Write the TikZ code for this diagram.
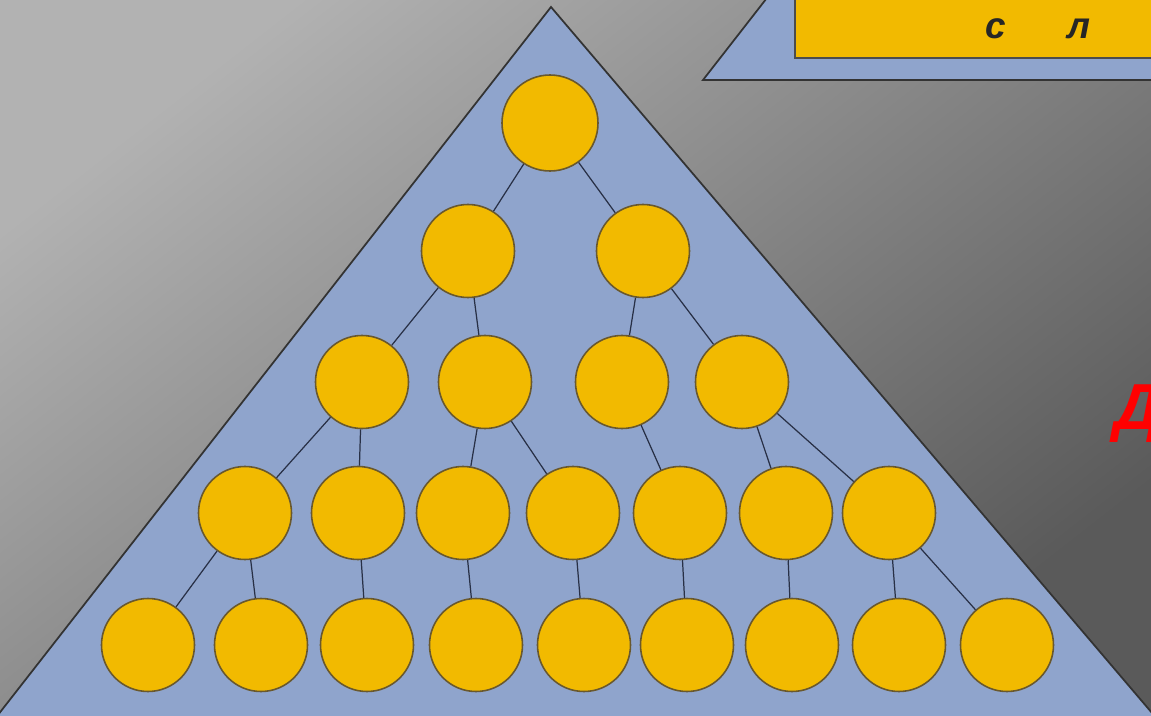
\documentclass[tikz,border=0pt]{standalone}
\usepackage{fontspec}
\setmainfont{Liberation Sans}
\definecolor{BgLight}{RGB}{178,178,178}
\definecolor{BgMid}{RGB}{128,128,128}
\definecolor{BgDark}{RGB}{90,90,90}
\definecolor{PyrBlue}{RGB}{143,164,204}
\definecolor{BallGold}{RGB}{242,186,0}
\definecolor{BallEdge}{RGB}{105,88,45}
\definecolor{LinkDark}{RGB}{40,48,70}
\usetikzlibrary{positioning, calc}

\begin{document}
\begin{tikzpicture}[
	ball/.style={circle, draw=BallEdge, line width=0.45pt, fill=BallGold, minimum size=9.3mm, inner sep=0pt},
	lnk/.style={draw=LinkDark, line width=0.35pt},
	pyr/.style={fill=PyrBlue, draw=black!80, line width=0.5pt}]

	% fondo
	\useasboundingbox (0,0) rectangle (11.51,7.15);
	\clip (0,0) rectangle (11.51,7.15);
	\shade[top color=BgLight, middle color=BgMid, bottom color=BgDark, shading angle=38] (0,0) rectangle (11.51,7.15);

	% piramide grande y la de arriba a la derecha
	\draw[pyr] (5.51,7.08) -- (-0.06,-0.05) -- (11.58,-0.05) -- cycle;
	\draw[pyr] (7.03,6.35) -- (11.7,6.35) -- (11.7,7.3) -- (7.77,7.3) -- cycle;
	\draw[fill=BallGold, draw=black!70, line width=0.5pt] (7.95,6.57) rectangle (11.7,7.3);
	\node[font=\fontsize{10.5}{12}\selectfont\bfseries\itshape, text=black!85] (ts) at (9.96,6.86) {с};
	\node[font=\fontsize{10.5}{12}\selectfont\bfseries\itshape, text=black!85] (tl) at (10.79,6.86) {л};
	\node[font=\fontsize{18.5}{22}\selectfont\bfseries\itshape, text=red, anchor=west, inner sep=0pt] (td) at (11.14,3.01) {Д};

	% fila 1
	\node[ball, minimum size=9.6mm] (n11) at (5.50,5.92) {};
	% fila 2
	\node[ball] (n21) at (4.68,4.64) {};
	\node[ball] (n22) at (6.43,4.64) {};
	% fila 3
	\node[ball] (n31) at (3.62,3.33) {};
	\node[ball] (n32) at (4.85,3.33) {};
	\node[ball] (n33) at (6.22,3.33) {};
	\node[ball] (n34) at (7.42,3.33) {};
	% fila 4
	\node[ball] (n41) at (2.45,2.02) {};
	\node[ball] (n42) at (3.58,2.02) {};
	\node[ball] (n43) at (4.63,2.02) {};
	\node[ball] (n44) at (5.73,2.02) {};
	\node[ball] (n45) at (6.80,2.02) {};
	\node[ball] (n46) at (7.86,2.02) {};
	\node[ball] (n47) at (8.89,2.02) {};
	% fila 5
	\node[ball] (n51) at (1.48,0.70) {};
	\node[ball] (n52) at (2.61,0.70) {};
	\node[ball] (n53) at (3.67,0.70) {};
	\node[ball] (n54) at (4.76,0.70) {};
	\node[ball] (n55) at (5.84,0.70) {};
	\node[ball] (n56) at (6.87,0.70) {};
	\node[ball] (n57) at (7.92,0.70) {};
	\node[ball] (n58) at (8.99,0.70) {};
	\node[ball] (n59) at (10.07,0.70) {};

	\foreach \a/\b in {n11/n21, n11/n22, n21/n31, n21/n32, n22/n33, n22/n34,
		n31/n41, n31/n42, n32/n43, n32/n44, n33/n45, n34/n46, n34/n47,
		n41/n51, n41/n52, n42/n53, n43/n54, n44/n55, n45/n56, n46/n57, n47/n58, n47/n59}
		\draw[lnk] (\a) -- (\b);
\end{tikzpicture}
\end{document}
